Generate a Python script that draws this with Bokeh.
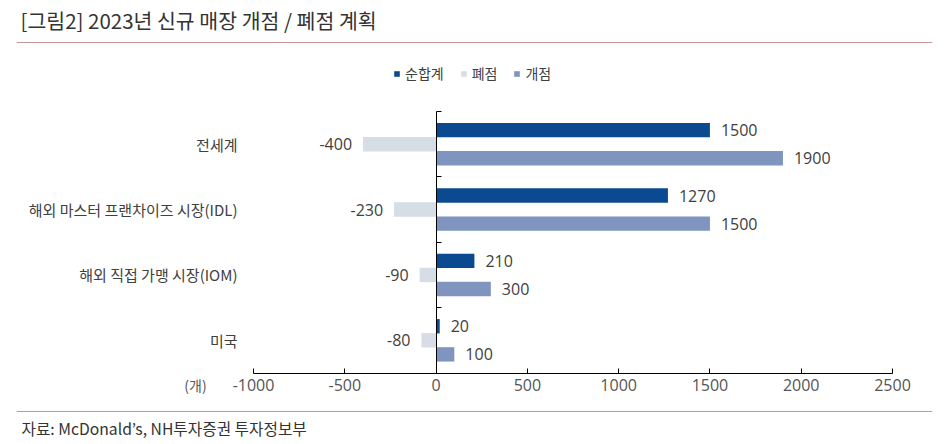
from bokeh.plotting import figure
from bokeh.models import (Range1d, FixedTicker, Span, Legend, LegendItem, Label,
                          LinearAxis, ColumnDataSource)
from bokeh.transform import dodge
from bokeh.embed import file_html
from bokeh.resources import INLINE
from bokeh.core.properties import value

# ---- data ----
title_text = "[그림2] 2023년 신규 매장 개점 / 폐점 계획"
source_text = "자료: McDonald’s, NH투자증권 투자정보부"
categories = ["전세계", "해외 마스터 프랜차이즈 시장(IDL)", "해외 직접 가맹 시장(IOM)", "미국"]
series_names = ["순합계", "폐점", "개점"]
net = [1500, 1270, 210, 20]
closed = [-400, -230, -90, -80]
opened = [1900, 1500, 300, 100]
x_ticks = [-1000, -500, 0, 500, 1000, 1500, 2000, 2500]
unit_label = "(개)"

# ---- styles ----
KFONT = "Noto Sans CJK KR"
NFONT = "Open Sans"
C_NET = "#0B4A90"
C_CLOSED = "#D6DDE4"
C_OPEN = "#7F94BF"
C_RULE = "#C4989B"
TXT = "#404040"

W, H = 950, 444            # figure size (page body has no margin)
FL, FR = 16, 18            # frame borders left / right (canvas px)
# pixel layout of the plotting area
PX_XMIN, PX_XMAX = 253, 892   # x of first / last x tick
PY_TOP, PY_ZERO = 111, 372.5  # y of top of first group / x axis
n = len(categories)
ux = (PX_XMAX - PX_XMIN) / (x_ticks[-1] - x_ticks[0])
uy = (PY_ZERO - PY_TOP) / n
page_l, page_r = FL, W - FR
page_t, page_b = 0, H
x_start = x_ticks[0] - (PX_XMIN - page_l) / ux
x_end = x_ticks[-1] + (page_r - PX_XMAX) / ux
y_start = -(page_b - PY_ZERO) / uy
y_end = n + (PY_TOP - page_t) / uy


def sx(px):   # canvas x -> frame screen x
    return px - page_l


def sy(py):   # canvas y -> frame screen y (upwards)
    return page_b - py


ypos = [n - i - 0.5 for i in range(n)]
src = ColumnDataSource(dict(
    y=ypos, net=net, closed=closed, opened=opened,
    net_lbl=[str(v) for v in net],
    closed_lbl=[str(v) for v in closed],
    opened_lbl=[str(v) for v in opened],
))

p = figure(width=W, height=H,
           x_range=Range1d(x_start, x_end), y_range=Range1d(y_start, y_end),
           x_axis_location=None, y_axis_location=None,
           output_backend="svg", toolbar_location=None,
           min_border=0, min_border_left=FL, min_border_right=FR,
           min_border_top=0, min_border_bottom=0)
p.outline_line_color = None
p.xgrid.visible = False
p.ygrid.visible = False
p.background_fill_color = "white"
p.border_fill_color = "white"

OFF = 0.215
BH = 0.22
r_net = p.hbar(y=dodge("y", OFF, range=p.y_range), right="net", left=0, height=BH,
               source=src, fill_color=C_NET, line_color=None)
r_closed = p.hbar(y="y", right="closed", left=0, height=BH,
                  source=src, fill_color=C_CLOSED, line_color=None)
r_open = p.hbar(y=dodge("y", -OFF, range=p.y_range), right="opened", left=0, height=BH,
                source=src, fill_color=C_OPEN, line_color=None)

lbl_kw = dict(text_baseline="middle", text_font=value(NFONT), text_font_size="16px",
              text_color=TXT, source=src)
p.text(x="net", y=dodge("y", OFF, range=p.y_range), text="net_lbl",
       x_offset=11, text_align="left", **lbl_kw)
p.text(x="closed", y="y", text="closed_lbl",
       x_offset=-11, text_align="right", **lbl_kw)
p.text(x="opened", y=dodge("y", -OFF, range=p.y_range), text="opened_lbl",
       x_offset=11, text_align="left", **lbl_kw)

# x axis at y = 0
xa = LinearAxis(fixed_location=0, bounds=(x_ticks[0], x_ticks[-1]),
                ticker=FixedTicker(ticks=x_ticks),
                major_label_overrides={t: str(t) for t in x_ticks})
xa.major_tick_in = 5
xa.major_tick_out = 0
xa.minor_tick_line_color = None
xa.axis_line_color = "black"
xa.major_tick_line_color = "black"
xa.major_label_standoff = 6
xa.major_label_text_font = NFONT
xa.major_label_text_font_size = "16px"
xa.major_label_text_color = "#555555"
p.add_layout(xa, "below")

# category axis at x = first tick
ya = LinearAxis(fixed_location=x_ticks[0], ticker=FixedTicker(ticks=ypos),
                major_label_overrides={y: c for y, c in zip(ypos, categories)})
ya.axis_line_color = None
ya.major_tick_line_color = None
ya.minor_tick_line_color = None
ya.major_label_standoff = 10
ya.major_label_text_font = KFONT
ya.major_label_text_font_size = "15px"
ya.major_label_text_color = TXT
p.add_layout(ya, "left")

# zero line with group-boundary ticks
bounds = list(range(n + 1))
za = LinearAxis(fixed_location=0, bounds=(0, n), ticker=FixedTicker(ticks=bounds),
                major_label_overrides={b: "" for b in bounds})
za.axis_line_color = "black"
za.major_tick_line_color = "black"
za.major_tick_in = 5
za.major_tick_out = 0
za.minor_tick_line_color = None
za.major_label_text_font_size = "1px"
p.add_layout(za, "left")

legend = Legend(items=[LegendItem(label=series_names[0], renderers=[r_net]),
                       LegendItem(label=series_names[1], renderers=[r_closed]),
                       LegendItem(label=series_names[2], renderers=[r_open])],
                location=(sx(393), sy(83)), orientation="horizontal",
                glyph_width=7, glyph_height=7, label_standoff=5, spacing=16,
                padding=0, margin=0, border_line_color=None,
                background_fill_alpha=0, label_height=16,
                label_text_font=KFONT, label_text_font_size="14px",
                label_text_color=TXT)
p.add_layout(legend)

p.add_layout(Label(x=sx(195), y=sy(384), x_units="screen", y_units="screen",
                   text=unit_label, text_align="center", text_baseline="middle",
                   text_font=KFONT, text_font_size="14px", text_color="#555555"))

# title, source and rules
p.add_layout(Label(x=sx(20), y=sy(19), x_units="screen", y_units="screen",
                   text=title_text, text_align="left", text_baseline="middle",
                   text_font=KFONT, text_font_size="20.5px", text_color="#333333"))
p.add_layout(Span(location=sy(42), location_units="screen", dimension="width",
                  line_color=C_RULE, line_width=1))
p.add_layout(Span(location=sy(411), location_units="screen", dimension="width",
                  line_color=C_RULE, line_width=1))
p.add_layout(Label(x=sx(21), y=sy(428), x_units="screen", y_units="screen",
                   text=source_text, text_align="left", text_baseline="middle",
                   text_font=KFONT, text_font_size="15.7px", text_color="#333333"))

open("out.html", "w").write(file_html(p, INLINE))
